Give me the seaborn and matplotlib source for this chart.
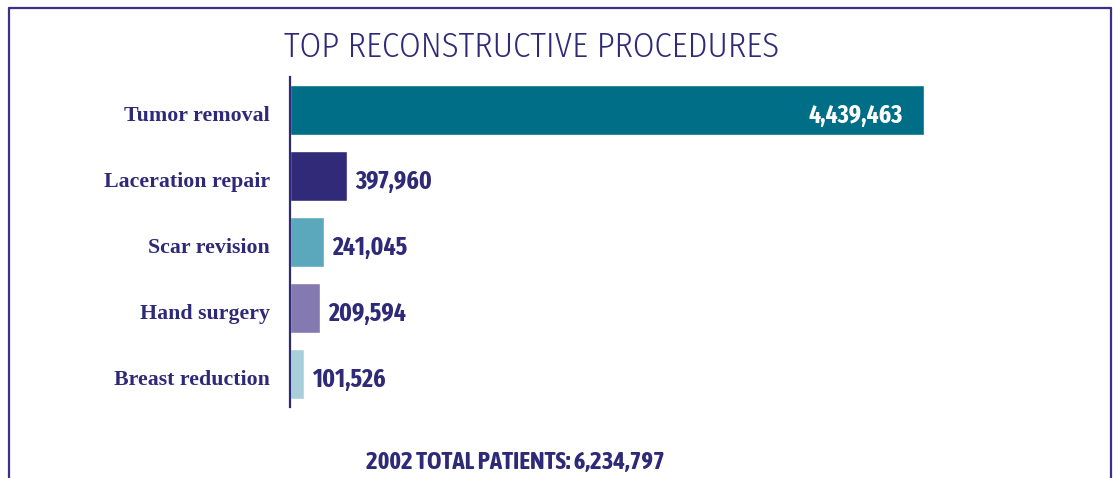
import matplotlib
matplotlib.use("Agg")
import matplotlib.pyplot as plt
import seaborn as sns
import pandas as pd
from matplotlib.lines import Line2D
from matplotlib import font_manager as fm
from matplotlib.textpath import TextPath

# ---- data ----
procedures = ["Tumor removal", "Laceration repair", "Scar revision", "Hand surgery", "Breast reduction"]
patients = [4439463, 397960, 241045, 209594, 101526]
bar_colors = ["#006e87", "#312a78", "#5ba8bc", "#8479b0", "#a8cfd9"]
title_text = "TOP RECONSTRUCTIVE PROCEDURES"
footer_text = "2002 TOTAL PATIENTS: 6,234,797"

NAVY = "#2f2a78"
BOX = "#3c318a"

sns.set_theme(style="white")
plt.rcParams["font.family"] = ["DejaVu Sans"]

W, H = 1115, 478
DPI = 100
PX = 72.0 / DPI  # points per pixel

AVAILABLE = {f.name for f in fm.fontManager.ttflist}


def ink(text, prop):
    e = TextPath((0, 0), text, size=100, prop=prop).get_extents()
    return e.width / 100.0, e.height / 100.0


def choose(text, ref_glyph, target_w_px, target_h_px, candidates, weight, stretch="normal"):
    """Pick the candidate font whose ink aspect best matches the reference,
    and return (FontProperties, fontsize in points) fitted to the target width."""
    best = None
    target_ratio = target_w_px / target_h_px
    for fam in candidates:
        if fam not in AVAILABLE:
            continue
        prop = fm.FontProperties(family=fam, weight=weight, stretch=stretch)
        w, _ = ink(text, prop)
        _, h = ink(ref_glyph, prop)
        score = abs(w / h - target_ratio) / target_ratio
        if best is None or score < best[0]:
            best = (score, prop, w, h)
    _, prop, w, h = best
    size = target_w_px * PX / w
    return prop, size, h * size / PX  # glyph height in px


SANS = ["Barlow Condensed", "Barlow Semi Condensed", "Barlow", "Roboto Condensed",
        "PT Sans Narrow", "Archivo Narrow", "Fira Sans Condensed", "Fira Sans Extra Condensed",
        "Saira Condensed", "Saira SemiCondensed", "IBM Plex Sans Condensed",
        "Encode Sans Condensed", "Encode Sans Semi Condensed", "Asap Condensed",
        "Cabin Condensed", "Jost", "Open Sans"]

title_prop, title_size, _ = choose(title_text, "H", 495, 24, SANS, 300)
footer_prop, footer_size, _ = choose(footer_text, "H", 297, 17.6, SANS, "bold")
val_prop, val_size, val_h = choose("397,960", "8", 76, 18, SANS, "bold")
serif_fams = [f for f in ["DejaVu Serif", "Liberation Serif"] if f in AVAILABLE] or ["serif"]
cat_prop, cat_size, cat_h = choose("Laceration repair", "L", 165, 18, serif_fams, "bold", "condensed")

fig = plt.figure(figsize=(W / DPI, H / DPI), dpi=DPI)
fig.patch.set_facecolor("white")

# axes geometry (pixels)
ax_l, ax_r, ax_t, ax_b = 290, 1050, 77, 407
ax = fig.add_axes([ax_l / W, 1 - ax_b / H, (ax_r - ax_l) / W, (ax_b - ax_t) / H])

df = pd.DataFrame({"procedure": procedures, "patients": patients})
sns.barplot(data=df, y="procedure", x="patients", hue="procedure",
            palette=bar_colors, orient="h", width=0.76, legend=False,
            saturation=1, ax=ax)

ax.set_xlim(0, patients[0] * (ax_r - ax_l) / (924 - ax_l))
ax.set_ylim(len(procedures) - 0.5, -0.5)
ax.set_xlabel("")
ax.set_ylabel("")
ax.set_xticks([])
for s in ["top", "right", "bottom"]:
    ax.spines[s].set_visible(False)
ax.spines["left"].set_color(NAVY)
ax.spines["left"].set_linewidth(1.6)
ax.set_facecolor("none")

# category labels
ax.set_yticks(range(len(procedures)))
ax.set_yticklabels([""] * len(procedures))
ax.tick_params(axis="y", length=0)
for i, name in enumerate(procedures):
    ax.annotate(name, xy=(0, i), xytext=(-20 * PX, -(cat_h / 2 + 3.5) * PX),
                textcoords="offset points", ha="right", va="baseline",
                color=NAVY, fontproperties=cat_prop, fontsize=cat_size)

# value labels
for i, v in enumerate(patients):
    lab = f"{v:,}"
    dy = -(val_h / 2 + 3.5) * PX
    if i == 0:
        ax.annotate(lab, xy=(v, i), xytext=(-21 * PX, dy), textcoords="offset points",
                    ha="right", va="baseline", color="white",
                    fontproperties=val_prop, fontsize=val_size)
    else:
        ax.annotate(lab, xy=(v, i), xytext=(8 * PX, dy), textcoords="offset points",
                    ha="left", va="baseline", color=NAVY,
                    fontproperties=val_prop, fontsize=val_size)

fig.text(532 / W, 1 - 57 / H, title_text, ha="center", va="baseline",
         color=NAVY, fontproperties=title_prop, fontsize=title_size)
fig.text(515.5 / W, 1 - 469 / H, footer_text, ha="center", va="baseline",
         color=NAVY, fontproperties=footer_prop, fontsize=footer_size)

# frame (top, left, right; open at bottom)
y_top = 1 - 8 / H
fig.add_artist(Line2D([9 / W, 1111 / W], [y_top, y_top], color=BOX, lw=1.6, transform=fig.transFigure))
fig.add_artist(Line2D([9 / W, 9 / W], [0, y_top], color=BOX, lw=1.6, transform=fig.transFigure))
fig.add_artist(Line2D([1111 / W, 1111 / W], [0, y_top], color=BOX, lw=1.6, transform=fig.transFigure))

fig.savefig("out.png", dpi=DPI, facecolor="white")
